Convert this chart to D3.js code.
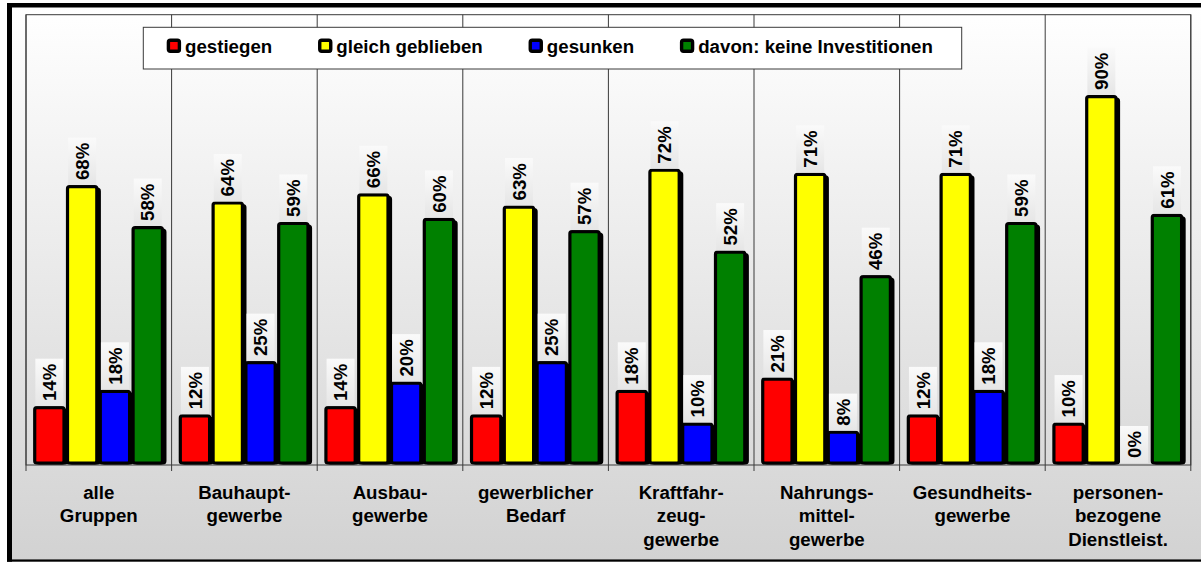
<!DOCTYPE html>
<html>
<head>
<meta charset="utf-8">
<script src="https://cdn.jsdelivr.net/npm/d3@7/dist/d3.min.js"></script>
<style>
  html, body { margin: 0; padding: 0; background: #ffffff; }
  svg { display: block; }
  text { font-family: "Liberation Sans", Arial, sans-serif; font-weight: bold; fill: #000; }
</style>
</head>
<body>
<svg id="chart" width="1201" height="563"></svg>
<script>
// Branchengruppen (Kategorien der x-Achse)
const categories = [
  ["alle", "Gruppen"],
  ["Bauhaupt-", "gewerbe"],
  ["Ausbau-", "gewerbe"],
  ["gewerblicher", "Bedarf"],
  ["Kraftfahr-", "zeug-", "gewerbe"],
  ["Nahrungs-", "mittel-", "gewerbe"],
  ["Gesundheits-", "gewerbe"],
  ["personen-", "bezogene", "Dienstleist."]
];

// Reihen
const seriesNames = ["gestiegen", "gleich geblieben", "gesunken", "davon: keine Investitionen"];
const seriesColors = ["#ff0000", "#ffff00", "#0000ff", "#008000"];

// Anteile in Prozent je Gruppe
const gestiegen          = [14, 12, 14, 12, 18, 21, 12, 10];
const gleichGeblieben    = [68, 64, 66, 63, 72, 71, 71, 90];
const gesunken           = [18, 25, 20, 25, 10,  8, 18,  0];
const keineInvestitionen = [58, 59, 60, 57, 52, 46, 59, 61];

const seriesValues = [gestiegen, gleichGeblieben, gesunken, keineInvestitionen];
const yDomain = [0, 110];

const svg = d3.select("#chart");
const W = 1201, H = 563;
const plot = { left: 26, right: 1190.8, top: 14.7, bottom: 465 };
const FONT = 18.7;

// Verläufe für Hintergrund und Beschriftungsfelder
const defs = svg.append("defs");
const grad = defs.append("linearGradient").attr("id", "bgGrad")
  .attr("x1", 0).attr("y1", 0).attr("x2", 0).attr("y2", 1);
grad.append("stop").attr("offset", "0%").attr("stop-color", "#ffffff");
grad.append("stop").attr("offset", "100%").attr("stop-color", "#d2d2d2");
const boxGrad = defs.append("linearGradient").attr("id", "boxGrad")
  .attr("x1", 0).attr("y1", 0).attr("x2", 0).attr("y2", 1);
boxGrad.append("stop").attr("offset", "0%").attr("stop-color", "#fafafa");
boxGrad.append("stop").attr("offset", "100%").attr("stop-color", "#e6e6e6");

// Diagrammfläche mit Rahmen
svg.append("rect").attr("x", 12).attr("y", 7.5).attr("width", W - 12).attr("height", 552)
  .attr("fill", "url(#bgGrad)");
svg.append("rect").attr("x", 7).attr("y", 3).attr("width", W - 7).attr("height", 4.5).attr("fill", "#000");
svg.append("rect").attr("x", 7).attr("y", 3).attr("width", 5).attr("height", 558.7).attr("fill", "#000");
svg.append("rect").attr("x", 7).attr("y", 559.4).attr("width", W - 7).attr("height", 2.3).attr("fill", "#000");

// Skalen
const catKeys = categories.map((c, i) => i);
const x0 = d3.scaleBand().domain(catKeys).range([plot.left, plot.right]).paddingInner(0).paddingOuter(0);
const x1 = d3.scaleBand().domain(d3.range(seriesNames.length)).range([0, x0.bandwidth()])
  .paddingInner(0).paddingOuter(0.22);
const y = d3.scaleLinear().domain(yDomain).range([plot.bottom, plot.top]);

// Zeichenfläche
svg.append("rect")
  .attr("x", plot.left).attr("y", plot.top)
  .attr("width", plot.right - plot.left).attr("height", plot.bottom - plot.top)
  .attr("fill", "none").attr("stroke", "#3a3a3a").attr("stroke-width", 1);

// Trennlinien zwischen den Gruppen und Teilstriche
const bounds = catKeys.map(k => x0(k)).concat([plot.right]);
svg.append("g").selectAll("line").data(bounds).join("line")
  .attr("x1", d => d).attr("x2", d => d)
  .attr("y1", plot.top).attr("y2", plot.bottom + 6)
  .attr("stroke", "#3a3a3a").attr("stroke-width", 1);

// Balken
const barData = [];
categories.forEach((c, i) => {
  seriesValues.forEach((vals, j) => {
    barData.push({ cat: i, s: j, v: vals[i] });
  });
});

const step = x1.bandwidth();
const barsG = svg.append("g");
const bars = barsG.selectAll("g").data(barData).join("g");

// Schatten
bars.filter(d => d.v > 0).append("rect")
  .attr("x", d => x0(d.cat) + x1(d.s) + 1.5 + 2.5)
  .attr("y", d => y(d.v) + 2.5)
  .attr("width", step - 3.5)
  .attr("height", d => Math.max(0, y(0) - 2 - y(d.v) - 2.5))
  .attr("rx", 2)
  .attr("fill", "#000").attr("stroke", "#000").attr("stroke-width", 3.2);

bars.filter(d => d.v > 0).append("rect")
  .attr("x", d => x0(d.cat) + x1(d.s) + 1.5)
  .attr("y", d => y(d.v))
  .attr("width", step - 3.5)
  .attr("height", d => Math.max(0, y(0) - 2 - y(d.v)))
  .attr("rx", 2)
  .attr("fill", d => seriesColors[d.s])
  .attr("stroke", "#000").attr("stroke-width", 3.2);

// Wertbeschriftungen (senkrecht)
const labelsG = svg.append("g");
barData.forEach(d => {
  const cx = x0(d.cat) + x1(d.s) + (step - 0.5) / 2;
  const top = d.v > 0 ? y(d.v) - 1.6 : y(0) - 2;
  const g = labelsG.append("g");
  const box = g.append("rect").attr("fill", "url(#boxGrad)");
  const t = g.append("text")
    .attr("transform", `translate(${cx},${top - 5}) rotate(-90)`)
    .attr("dy", "0.36em")
    .attr("font-size", FONT)
    .attr("text-anchor", "start")
    .text(d.v + "%");
  const len = t.node().getComputedTextLength();
  box.attr("x", cx - 14).attr("width", 28)
    .attr("y", top - len - 10).attr("height", len + 10);
});

// Kategorienbeschriftung
const catG = svg.append("g");
categories.forEach((lines, i) => {
  const cx = x0(i) + x0.bandwidth() / 2;
  const t = catG.append("text")
    .attr("x", cx).attr("y", 498.5)
    .attr("text-anchor", "middle")
    .attr("font-size", FONT);
  lines.forEach((ln, k) => {
    t.append("tspan").attr("x", cx).attr("dy", k === 0 ? 0 : 23.8).text(ln);
  });
});

// Legende
const legend = svg.append("g");
legend.append("rect")
  .attr("x", 143.3).attr("y", 27.3).attr("width", 818.4).attr("height", 41.7)
  .attr("fill", "#ffffff").attr("stroke", "#3a3a3a").attr("stroke-width", 1);
let lx = 166.7;
seriesNames.forEach((name, j) => {
  legend.append("rect")
    .attr("x", lx + 2).attr("y", 38.6 + 2).attr("width", 12).attr("height", 12)
    .attr("rx", 2).attr("fill", "#000");
  legend.append("rect")
    .attr("x", lx + 1.7).attr("y", 38.6 + 1.7).attr("width", 11).attr("height", 11)
    .attr("rx", 2).attr("fill", seriesColors[j])
    .attr("stroke", "#000").attr("stroke-width", 3.4);
  const t = legend.append("text")
    .attr("x", lx + 18.3).attr("y", 53.2)
    .attr("font-size", FONT)
    .text(name);
  lx = lx + 18.3 + t.node().getComputedTextLength() + 45.8;
});
</script>
</body>
</html>
